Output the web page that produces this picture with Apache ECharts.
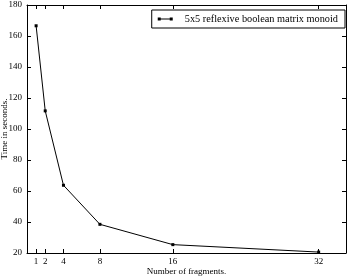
<!DOCTYPE html>
<html>
<head>
<meta charset="utf-8">
<script src="https://cdn.jsdelivr.net/npm/echarts@6/dist/echarts.min.js"></script>
<style>
  html, body { margin: 0; padding: 0; background: #fff; }
  #chart { width: 353px; height: 277px; }
</style>
</head>
<body>
<div id="chart"></div>
<script>
// data
var fragments = [1, 2, 4, 8, 16, 32];
var seconds = [166.6, 111.7, 63.7, 38.5, 25.4, 20.6];
var xTicks = [1, 2, 4, 8, 16, 32];
var seriesName = '5x5 reflexive boolean matrix monoid';

var points = fragments.map(function (f, i) { return [f, seconds[i]]; });
var font = 'Liberation Serif';

var chart = echarts.init(document.getElementById('chart'));
chart.setOption({
  animation: false,
  textStyle: { fontFamily: font },
  grid: { left: 27, right: 7, top: 5, bottom: 24, outerBoundsMode: 'none' },
  legend: {
    right: 8,
    top: 10,
    padding: [4, 7, 4, 6],
    borderColor: '#000',
    borderWidth: 1,
    itemWidth: 15,
    itemHeight: 4,
    icon: 'path://M0,1.6 H15 V2.4 H0 Z M0,0.5 h3 v3 h-3 Z M12,0.5 h3 v3 h-3 Z',
    textStyle: { fontFamily: font, fontSize: 10.3, color: '#000', padding: [0, 0, 0, 7] },
    data: [seriesName]
  },
  xAxis: [{
    type: 'value',
    min: 0,
    max: 35,
    name: 'Number of fragments.',
    nameLocation: 'middle',
    nameGap: 14,
    nameMoveOverlap: false,
    nameTextStyle: { fontFamily: font, fontSize: 9, color: '#000' },
    axisLine: { onZero: false, lineStyle: { color: '#000', width: 1 } },
    axisTick: { inside: true, length: 4, customValues: xTicks, lineStyle: { color: '#000' } },
    axisLabel: { customValues: xTicks, fontFamily: font, fontSize: 9, color: '#000', margin: 4 },
    splitLine: { show: false }
  }, {
    type: 'value',
    position: 'top',
    min: 0,
    max: 35,
    axisLine: { onZero: false, lineStyle: { color: '#000', width: 1 } },
    axisTick: { inside: true, length: 4, customValues: xTicks, lineStyle: { color: '#000' } },
    axisLabel: { show: false },
    splitLine: { show: false }
  }],
  yAxis: [{
    type: 'value',
    min: 20,
    max: 180,
    interval: 20,
    name: 'Time in seconds.',
    nameLocation: 'middle',
    nameGap: 18,
    nameMoveOverlap: false,
    nameTextStyle: { fontFamily: font, fontSize: 9, color: '#000' },
    axisLine: { show: true, onZero: false, lineStyle: { color: '#000', width: 1 } },
    axisTick: { show: true, inside: true, length: 4, lineStyle: { color: '#000' } },
    axisLabel: { fontFamily: font, fontSize: 9, color: '#000', margin: 5 },
    splitLine: { show: false }
  }, {
    type: 'value',
    position: 'right',
    min: 20,
    max: 180,
    interval: 20,
    axisLine: { show: true, onZero: false, lineStyle: { color: '#000', width: 1 } },
    axisTick: { show: true, inside: true, length: 4, lineStyle: { color: '#000' } },
    axisLabel: { show: false },
    splitLine: { show: false }
  }],
  series: [{
    name: seriesName,
    type: 'line',
    data: points,
    symbol: 'rect',
    symbolSize: 3,
    itemStyle: { color: '#000' },
    lineStyle: { color: '#000', width: 1 }
  }]
});
</script>
</body>
</html>
